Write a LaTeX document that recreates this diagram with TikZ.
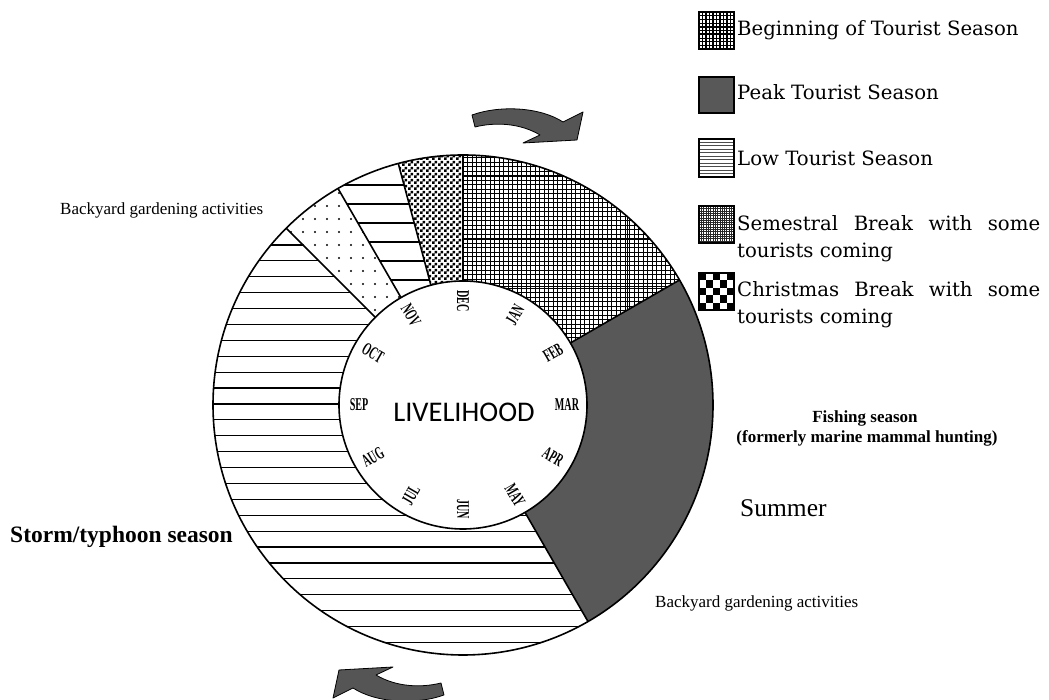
\documentclass[tikz,border=0pt]{standalone}
\usepackage{fontspec}
\setmainfont{Liberation Serif}
\newfontfamily\legfont{DejaVu Serif}
\newfontfamily\calfont{Carlito}
\usetikzlibrary{patterns}
\definecolor{peakgray}{RGB}{88,88,88}
\definecolor{arrowgray}{RGB}{85,85,85}
% small checkerboard used for the Christmas break sector
\pgfdeclarepatternformonly{finechecker}{\pgfpointorigin}{\pgfpoint{6pt}{6pt}}{\pgfpoint{6pt}{6pt}}{%
  \pgfpathrectangle{\pgfpointorigin}{\pgfpoint{3pt}{3pt}}%
  \pgfpathrectangle{\pgfpoint{3pt}{3pt}}{\pgfpoint{3pt}{3pt}}%
  \pgfusepath{fill}}

\begin{document}
\begin{tikzpicture}[x=1pt,y=1pt,
  ringpart/.style 2 args={insert path={(#1:250) arc[start angle=#1,end angle=#2,radius=250] -- (#2:124) arc[start angle=#2,end angle=#1,radius=124] -- cycle}},
  rim/.style={line width=1.6pt, draw=black},
  hatch/.style={line width=1.2pt, black},
  fineline/.style={line width=0.35pt, black},
  coarseline/.style={line width=1pt, black},
  month/.style={font=\bfseries\fontsize{18}{20}\selectfont, inner sep=0pt},
  legbox/.style={draw=black, line width=1.5pt},
  legtext/.style={font=\legfont\fontsize{19.7}{23}\selectfont, inner sep=0pt, anchor=base west},
  note/.style={font=\fontsize{17}{20}\selectfont, inner sep=0pt, anchor=base west},
  turnarrow/.style={fill=arrowgray, draw=black, line width=0.8pt, line join=round},
  arrowshape/.style={insert path={(472,585) .. controls (500,595) and (540,593) .. (563,578) -- (583,588) -- (577,560) -- (523,557) -- (540,565) .. controls (520,577) and (495,578) .. (475,573) -- cycle}}
]
\useasboundingbox (0,0) rectangle (1049,700);

% ---------- seasonal ring ----------
\begin{scope}[shift={(463,295)}]
  % peak tourist season
  \fill[peakgray, ringpart={-60}{30}];
  % January-February: fine grid with coarse grid lines
  \begin{scope}
    \clip[ringpart={30}{90}];
    \foreach \i in {0,...,57} {
      \draw[fineline] ({\i*4.5},0) -- ({\i*4.5},260);
      \draw[fineline] (0,{\i*4.5}) -- (260,{\i*4.5});
    }
    \draw[coarseline] (54,0) -- (54,260);
    \draw[coarseline] (164,0) -- (164,260);
    \draw[coarseline] (0,228) -- (260,228);
    \draw[coarseline] (0,165) -- (260,165);
    \draw[coarseline] (0,118) -- (260,118);
  \end{scope}
  % Christmas break
  \path[pattern=finechecker, ringpart={90}{105}];
  % low season, short sector
  \begin{scope}
    \clip[ringpart={105}{120}];
    \foreach \k in {0,...,8}
      \draw[hatch] (-200,{220-19*\k}) -- (10,{220-19*\k});
  \end{scope}
  % backyard gardening, dotted sector
  \begin{scope}
    \clip[ringpart={120}{135}];
    \foreach \i in {0,...,11}
      \foreach \j in {0,...,11}
        \fill ({-184+\i*12},{82+\j*13}) circle[radius=1.1];
  \end{scope}
  % low season, long sector
  \begin{scope}
    \clip[ringpart={135}{300}];
    \foreach \k in {0,...,27}
      \draw[hatch] (-260,{160-15.9*\k}) -- (260,{160-15.9*\k});
  \end{scope}
  % outlines
  \draw[rim] (0,0) circle[radius=250];
  \foreach \a in {30,90,105,120,135,300}
    \draw[rim] (\a:124) -- (\a:250);
  \filldraw[fill=white, rim] (0,0) circle[radius=124];
  % month names
  \foreach \m/\a/\r in {DEC/90/-90, JAN/60/60, FEB/30/30, MAR/0/0, APR/-30/-30, MAY/-60/-60,
                        JUN/-90/-90, JUL/-120/60, AUG/-150/30, SEP/180/0, OCT/150/-30, NOV/120/-60}
    \node[month, rotate=\r] (m\m) at (\a:104) {\scalebox{0.56}[1]{\m}};
  \node[font=\calfont\fontsize{28.5}{32}\selectfont, inner sep=0pt] (core) at (1,-7) {LIVELIHOOD};
\end{scope}

% ---------- direction arrows ----------
\path[turnarrow, arrowshape];
\path[turnarrow, rotate around={180:(458,295)}, arrowshape];

% ---------- annotations ----------
\node[note] (gardenA) at (60,485) {Backyard gardening activities};
\node[note] (gardenB) at (655,92) {Backyard gardening activities};
\node[note, font=\bfseries\fontsize{23.5}{27}\selectfont] (storm) at (10,157) {Storm/typhoon season};
\node[inner sep=0pt, anchor=base, font=\bfseries\fontsize{17}{20}\selectfont] (fish) at (865,277) {Fishing season};
\node[inner sep=0pt, anchor=base, font=\bfseries\fontsize{17}{20}\selectfont] (fishB) at (867,257) {(formerly marine mammal hunting)};
\node[note, font=\fontsize{25.5}{30}\selectfont] (summer) at (740,183) {Summer};

% ---------- legend ----------
% beginning of tourist season
\begin{scope}
  \clip (699,651) rectangle (734,688);
  \fill[white] (699,651) rectangle (734,688);
  \foreach \i in {0,...,10} {
    \draw[line width=0.5pt] ({699+\i*3.5},651) -- ({699+\i*3.5},688);
    \draw[line width=0.5pt] (699,{651+\i*3.7}) -- (734,{651+\i*3.7});
  }
  \foreach \i in {0,...,5} {
    \draw[line width=1.6pt] ({699+\i*7},651) -- ({699+\i*7},688);
    \draw[line width=1.6pt] (699,{651+\i*7.4}) -- (734,{651+\i*7.4});
  }
\end{scope}
\draw[legbox] (699,651) rectangle (734,688);
\node[legtext] (legA) at (737,664) {Beginning of Tourist Season};

% peak tourist season
\filldraw[legbox, fill=peakgray] (699,587) rectangle (734,623);
\node[legtext] (legB) at (737,600) {Peak Tourist Season};

% low tourist season
\begin{scope}
  \clip (699,523) rectangle (734,561);
  \foreach \i in {0,...,11}
    \draw[line width=0.6pt, black!70] (699,{523+\i*3.5}) -- (734,{523+\i*3.5});
\end{scope}
\draw[legbox] (699,523) rectangle (734,561);
\node[legtext] (legC) at (737,534) {Low Tourist Season};

% semestral break
\begin{scope}
  \clip (699,457) rectangle (734,494);
  \foreach \i in {0,...,16} {
    \draw[line width=0.3pt, black!85] ({699+\i*2.3},457) -- ({699+\i*2.3},494);
    \draw[line width=0.3pt, black!85] (699,{457+\i*2.3}) -- (734,{457+\i*2.3});
  }
\end{scope}
\draw[legbox] (699,457) rectangle (734,494);
\node[legtext] (legD) at (737,469) {\makebox[303pt][s]{Semestral Break with some}};
\node[legtext] (legDb) at (737,442) {tourists coming};

% Christmas break
\foreach \i in {0,...,4}
  \foreach \j in {0,...,4} {
    \ifodd\numexpr\i+\j\relax\else
      \fill ({699+\i*7},{427-\j*7.4}) rectangle ({706+\i*7},{419.6-\j*7.4});
    \fi
  }
\draw[legbox] (699,390) rectangle (734,427);
\node[legtext] (legE) at (737,403) {\makebox[303pt][s]{Christmas Break with some}};
\node[legtext] (legEb) at (737,376) {tourists coming};
\end{tikzpicture}
\end{document}
